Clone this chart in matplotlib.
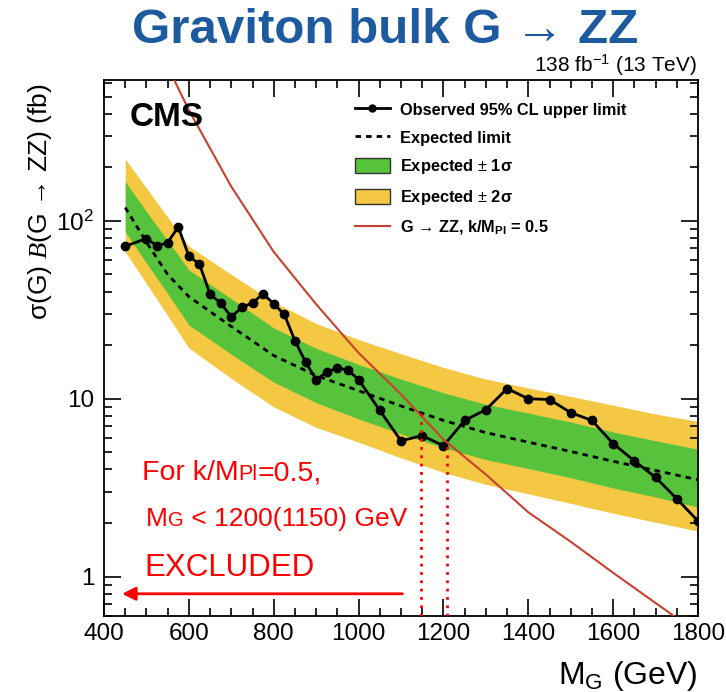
import numpy as np
import matplotlib
matplotlib.use("Agg")
import matplotlib.pyplot as plt
from matplotlib.ticker import MultipleLocator, FixedLocator, LogLocator, NullFormatter
from matplotlib.patches import Patch
from matplotlib.lines import Line2D
from matplotlib.offsetbox import TextArea, HPacker, AnchoredOffsetbox

plt.rcParams['font.family'] = ['Liberation Sans', 'DejaVu Sans']
plt.rcParams['mathtext.fontset'] = 'custom'
plt.rcParams['mathtext.rm'] = 'Liberation Sans'
plt.rcParams['mathtext.it'] = 'Liberation Sans:italic'
plt.rcParams['mathtext.bf'] = 'Liberation Sans:bold'
plt.rcParams['mathtext.cal'] = 'Liberation Serif:italic'

# observed 95% CL limit (fb)
mass_obs = [450, 500, 525, 550, 575, 600, 625, 650, 675, 700, 725, 750, 775, 800,
            825, 850, 875, 900, 925, 950, 975, 1000, 1050, 1100, 1150, 1200, 1250,
            1300, 1350, 1400, 1450, 1500, 1550, 1600, 1650, 1700, 1750, 1800]
obs = [72, 79.6, 72.4, 75.5, 92.5, 63.4, 57.1, 38.7, 34.5, 28.9, 32.6, 34.6, 38.9, 34.2,
       29.8, 21.2, 16.1, 12.8, 14.1, 14.9, 14.5, 12.8, 8.6, 5.8, 6.2, 5.44, 7.55,
       8.67, 11.4, 10.0, 9.9, 8.35, 7.55, 5.59, 4.47, 3.61, 2.74, 2.05]

# expected limit and bands
mass_exp = [450, 500, 550, 600, 700, 800, 900, 1000, 1100, 1200, 1300, 1400, 1500, 1600, 1700, 1800]
exp_mid = [119, 76, 50, 37.5, 25.5, 17.5, 13.5, 11.1, 9.1, 7.55, 6.45, 5.7, 5.05, 4.45, 3.95, 3.5]
exp_m2 = [67, 44.4, 29.3, 19.3, 13.0, 9.0, 6.9, 5.7, 4.65, 3.85, 3.3, 2.92, 2.58, 2.27, 2.02, 1.80]
exp_m1 = [87, 58, 39, 26, 17.8, 12.4, 9.5, 7.7, 6.35, 5.3, 4.55, 4.05, 3.6, 3.15, 2.8, 2.46]
exp_p1 = [166, 113, 77.5, 53, 36.5, 25, 19.2, 15.6, 12.9, 10.8, 9.3, 8.3, 7.4, 6.5, 5.8, 5.2]
exp_p2 = [223, 153, 105, 72, 50, 35, 26.5, 21.5, 17.9, 15.0, 12.9, 11.5, 10.3, 9.2, 8.2, 7.45]

# theory G -> ZZ, k/MPl = 0.5
mass_th = [500, 600, 700, 800, 900, 1000, 1100, 1200, 1300, 1400, 1500, 1600, 1700, 1800]
xs_th = [1300, 420, 156, 67, 34, 18.1, 10.6, 5.9, 3.75, 2.30, 1.57, 1.05, 0.71, 0.48]

# exclusion lines: (mass, top of dotted line)
excl_exp = (1148, 8.3)
excl_obs = (1208, 5.7)

green = '#57c23c'
yellow = '#f4c842'
red_th = '#c8412f'

fig = plt.figure(figsize=(7.26, 6.92), dpi=100)
ax = fig.add_axes([104/726, 1-616/692, 594/726, 536/692])

ax.fill_between(mass_exp, exp_m2, exp_p2, color=yellow, lw=0, zorder=1)
ax.fill_between(mass_exp, exp_m1, exp_p1, color=green, lw=0, zorder=2)
ax.plot(mass_exp, exp_mid, color='black', lw=2.0, ls=(0, (2, 1.8)), zorder=3)
ax.plot(mass_obs, obs, color='black', lw=2.0, marker='o', ms=6, zorder=4)
ax.plot(mass_th, xs_th, color=red_th, lw=1.5, zorder=5)

for m, top in [excl_exp, excl_obs]:
    ax.plot([m, m], [0.6, top], color='red', lw=2, ls=(0, (1, 2)), zorder=6)

ax.annotate('', xy=(436, 0.8), xytext=(1110, 0.8),
            arrowprops=dict(arrowstyle='-|>', color='red', lw=2, mutation_scale=20))

ax.set_yscale('log')
ax.set_xlim(400, 1800)
ax.set_ylim(0.6, 620)
ax.xaxis.set_major_locator(MultipleLocator(200))
ax.xaxis.set_minor_locator(MultipleLocator(50))
ax.yaxis.set_major_locator(FixedLocator([1, 10, 100]))
ax.yaxis.set_minor_locator(LogLocator(base=10, subs=np.arange(2, 10)))
ax.yaxis.set_minor_formatter(NullFormatter())
ax.set_yticklabels(['1', '10', '10$^2$'])
ax.tick_params(which='both', direction='in', top=True, right=True, labelsize=17.5, width=1.2)
ax.tick_params(which='major', length=12)
ax.tick_params(which='minor', length=6)
ax.tick_params(axis='x', pad=5)
ax.tick_params(axis='y', pad=7)
for s in ax.spines.values():
    s.set_linewidth(1.3)

handles = [
    Line2D([], [], color='black', lw=2, marker='o', ms=5),
    Line2D([], [], color='black', lw=2, ls=(0, (2, 1.8))),
    Patch(facecolor=green, edgecolor='#333333', lw=1),
    Patch(facecolor=yellow, edgecolor='#333333', lw=1),
    Line2D([], [], color=red_th, lw=1.5),
]
labels = ['Observed 95% CL upper limit', 'Expected limit', 'Expected $\\pm$ 1σ',
          'Expected $\\pm$ 2σ', 'G → ZZ, k/M$_{\\mathbf{Pl}}$ = 0.5']
ax.legend(handles, labels, loc='upper left', bbox_to_anchor=(0.4226, 0.960),
          frameon=False, borderpad=0, borderaxespad=0, handlelength=2.13,
          handleheight=1.05, handletextpad=0.6, labelspacing=0.72,
          prop={'weight': 'bold', 'size': 11.8})

fig.text(130/726, 1-118/692, 'CMS', fontsize=24, fontweight='bold', va='center', ha='left')

# title and labels
fig.text(385/726, 1-43/692, 'Graviton bulk G → ZZ', fontsize=35.5, fontweight='bold',
         color='#1d5a9e', ha='center', va='baseline')
fig.text(697/726, 1-72/692, '138 fb$^{-1}$ (13 TeV)', fontsize=15, ha='right', va='baseline')
fig.text(40/726, 1-84/692, 'σ(G) $\\mathcal{B}$(G → ZZ) (fb)', fontsize=19, rotation=90,
         ha='center', va='top')
fig.text(698/726, 1-676/692, 'M$_{\\rm G}$ (GeV)', fontsize=23, ha='right', va='center')


def mixed_text(x, y, parts):
    boxes = [TextArea(t, textprops=dict(color='red', fontsize=fs)) for t, fs in parts]
    pack = HPacker(children=boxes, align='baseline', pad=0, sep=0)
    ab = AnchoredOffsetbox(loc='lower left', child=pack, pad=0, borderpad=0, frameon=False,
                           bbox_to_anchor=(x/726, 1-y/692), bbox_transform=fig.transFigure)
    fig.add_artist(ab)


mixed_text(142, 486, [('For k/M', 20.5), ('Pl', 15.5), ('=0.5,', 20.5)])
mixed_text(146, 531, [('M', 19), ('G', 14.5), (' < 1200(1150) GeV', 19)])
mixed_text(144, 583, [('EXCLUDED', 22.5)])

fig.savefig('out.png', dpi=100)
